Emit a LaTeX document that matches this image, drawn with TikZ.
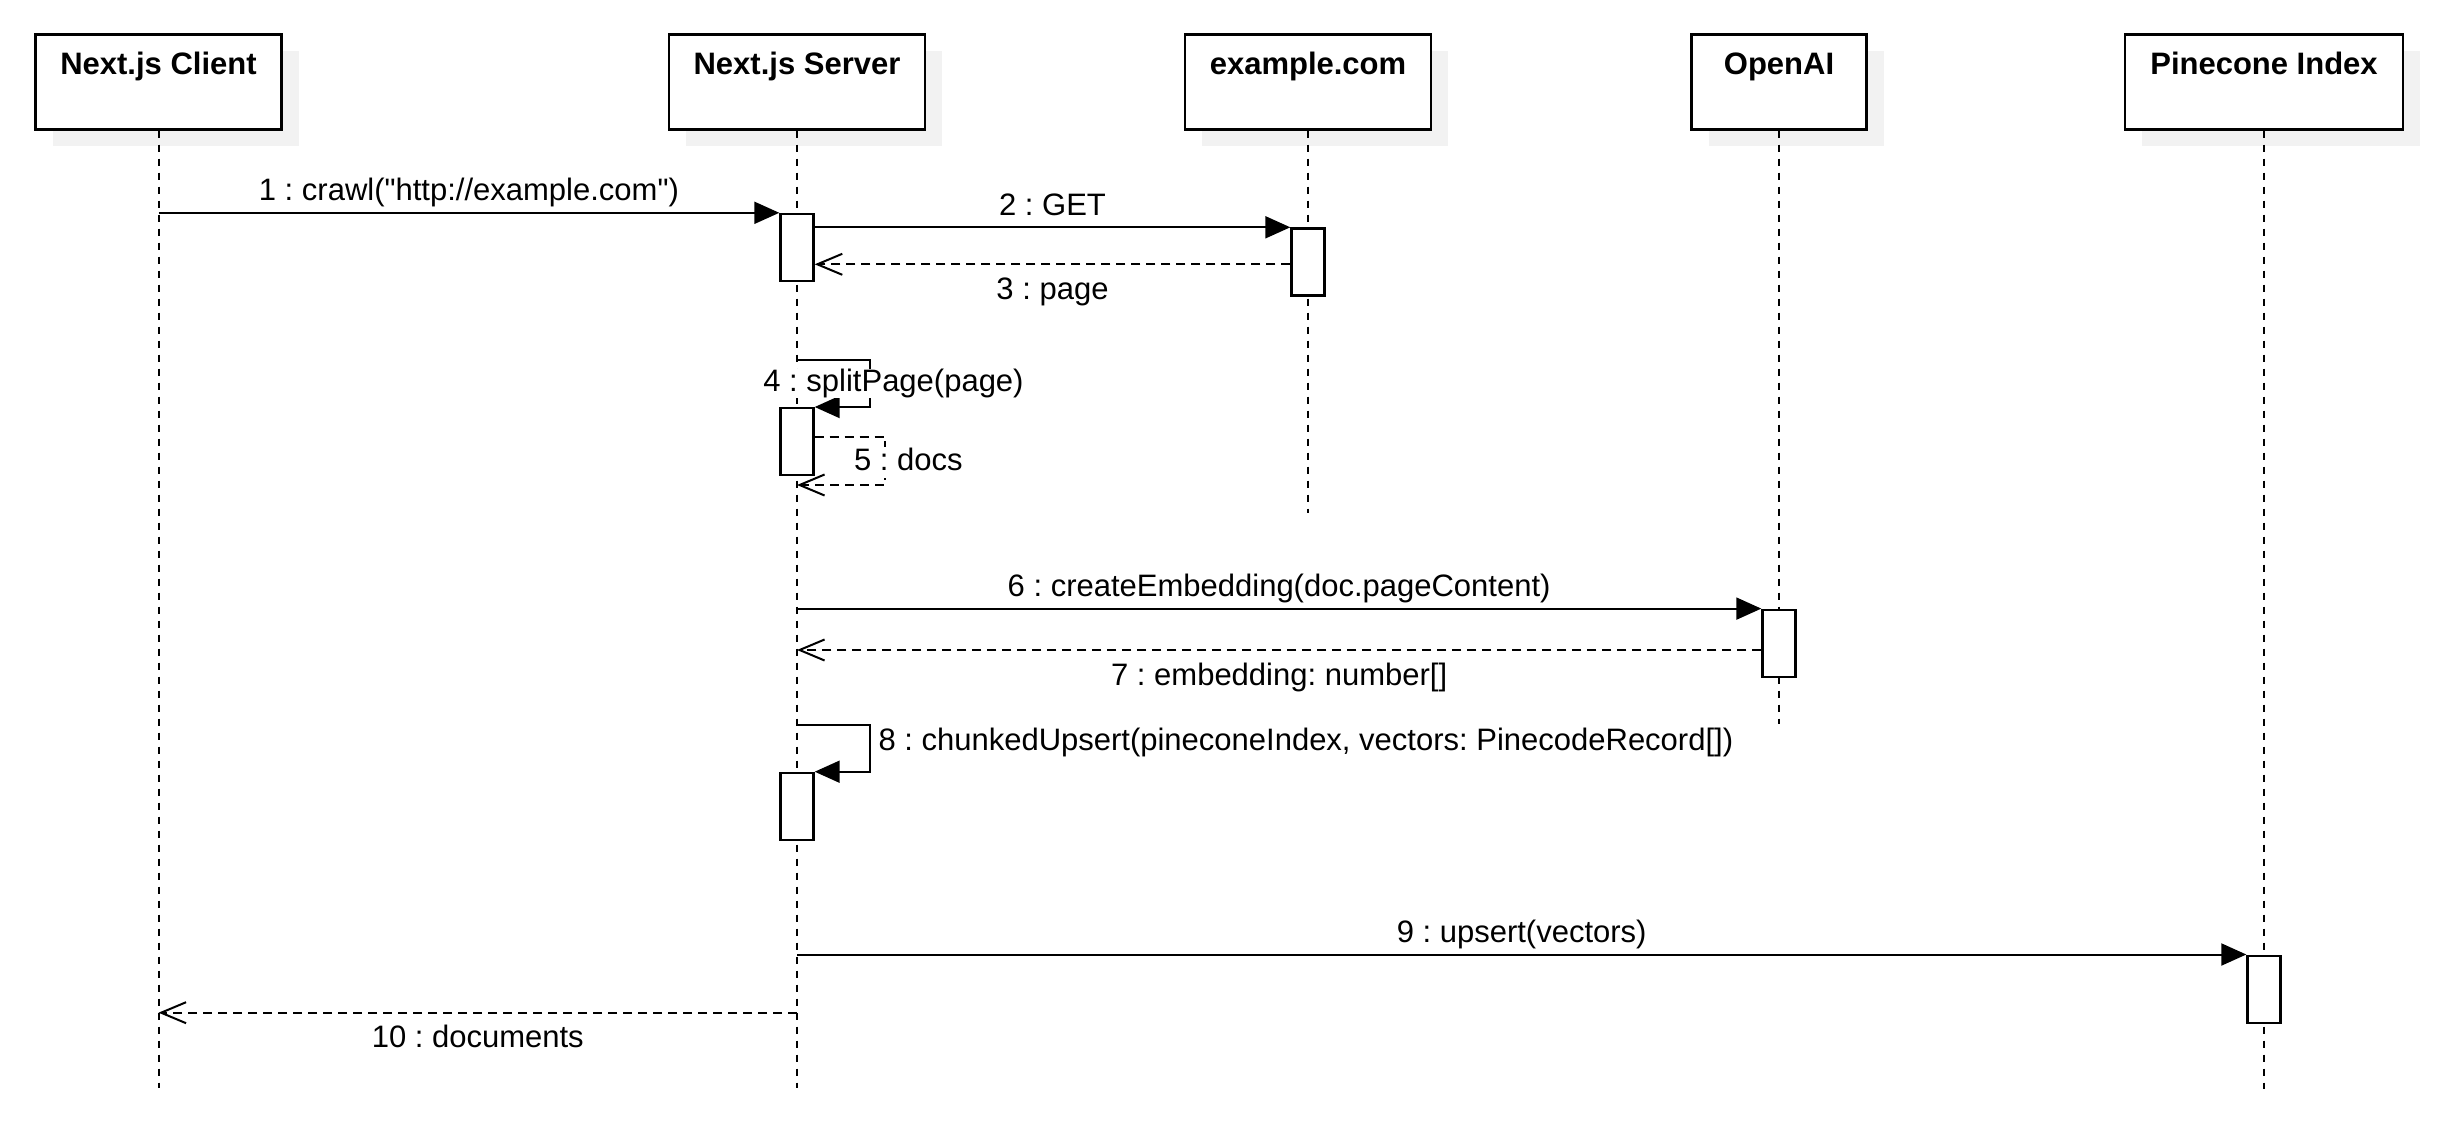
\documentclass[tikz,border=0pt]{standalone}
\usepackage{fontspec}
\setmainfont{Liberation Sans}[Ligatures=TeXOff]
\usetikzlibrary{arrows.meta,shadows}
\definecolor{shadowgray}{HTML}{F2F2F2}

\begin{document}
\frenchspacing
\begin{tikzpicture}[x=1pt, y=-1pt,
    every node/.style={font=\fontsize{31}{37}\selectfont},
    headbox/.style={draw, line width=2.6pt, fill=white, minimum height=95pt, inner sep=0pt,
      drop shadow={shadow xshift=17pt, shadow yshift=-17pt, fill=shadowgray, opacity=1}},
    headtext/.style={font=\fontsize{31}{37}\selectfont\bfseries, inner sep=0pt, anchor=base},
    lifeline/.style={line width=2pt, dash pattern=on 7pt off 7pt},
    actbar/.style={draw, line width=2.4pt, fill=white, minimum width=33pt, minimum height=67pt, inner sep=0pt},
    msg/.style={line width=2pt, -{Triangle[length=25pt, width=22pt]}},
    ret/.style={line width=2pt, dash pattern=on 9pt off 6pt, -{Straight Barb[length=25pt, width=21pt]}},
    msglabel/.style={inner sep=6pt, text height=23pt, text depth=8pt}]
  \useasboundingbox (0,0) rectangle (2456,1146);

  % participants
  \node[headbox, minimum width=246pt] (client) at (158.5,81.7) {};
  \node[headbox, minimum width=256pt] (server) at (797,81.7) {};
  \node[headbox, minimum width=246pt] (site) at (1308,81.7) {};
  \node[headbox, minimum width=175pt] (openai) at (1779,81.7) {};
  \node[headbox, minimum width=278pt] (pinecone) at (2264,81.7) {};
  \node[headtext] (clientname) at ([yshift=-42pt]client.north) {Next.js Client};
  \node[headtext] (servername) at ([yshift=-42pt]server.north) {Next.js Server};
  \node[headtext] (sitename) at ([yshift=-42pt]site.north) {example.com};
  \node[headtext] (openainame) at ([yshift=-42pt]openai.north) {OpenAI};
  \node[headtext] (pineconename) at ([yshift=-42pt]pinecone.north) {Pinecone Index};

  % lifelines
  \coordinate (clientend) at (client |- 0,1088);
  \coordinate (serverend) at (server |- 0,1088);
  \coordinate (siteend) at (site |- 0,513);
  \coordinate (openaiend) at (openai |- 0,724);
  \coordinate (pineconeend) at (pinecone |- 0,1089);
  \draw[lifeline] (client) -- (clientend);
  \draw[lifeline] (server) -- (serverend);
  \draw[lifeline] (site) -- (siteend);
  \draw[lifeline] (openai) -- (openaiend);
  \draw[lifeline] (pinecone) -- (pineconeend);

  % activations
  \node[actbar] (act1) at (server |- 0,247.5) {};
  \node[actbar] (act2) at (site |- 0,262) {};
  \node[actbar] (act3) at (server |- 0,441.7) {};
  \node[actbar] (act4) at (openai |- 0,643.3) {};
  \node[actbar] (act5) at (server |- 0,806.4) {};
  \node[actbar] (act6) at (pinecone |- 0,989.2) {};

  % messages
  \draw[msg] (client |- act1.north) -- node[msglabel, above=-3pt] (m1) {1 : crawl("http://example.com")} (act1.north west);
  \draw[msg] (act1.east |- act2.north west) -- node[msglabel, above=-3pt] (m2) {2 : GET} (act2.north west);
  \draw[ret] (act2.west |- 0,264.3) -- node[msglabel, below=5pt] (m3) {3 : page} (act1.east |- 0,264.3);
  \draw[msg] (server |- 0,360) -- (870,360) |- (act3.north east);
  \draw[ret] (act3.east |- 0,436.7) -- (885,436.7) |- (server |- 0,485);
  \node[msglabel, fill=white, inner sep=0pt, text depth=6.5pt, anchor=base] (m4) at (893.5,391.5) {4 : splitPage(page)};
  \node[msglabel, fill=white, inner sep=0pt, anchor=base] (m5) at (908.3,470) {5 : docs};
  \draw[msg] (server |- act4.north) -- node[msglabel, above=-3pt] (m6) {6 : createEmbedding(doc.pageContent)} (act4.north west);
  \draw[ret] (act4.west |- 0,650) -- node[msglabel, below=5pt] (m7) {7 : embedding: number[]} (server |- 0,650);
  \draw[msg] (server |- 0,725) -- (870,725) |- (act5.north east);
  \node[msglabel, inner sep=0pt, anchor=base west] (m8) at (878.3,750) {8 : chunkedUpsert(pineconeIndex, vectors: PinecodeRecord[])};
  \draw[msg] (server |- act6.north) -- node[msglabel, above=-3pt] (m9) {9 : upsert(vectors)} (act6.north west);
  \draw[ret] (server |- 0,1012.7) -- node[msglabel, below=5pt] (m10) {10 : documents} (client |- 0,1012.7);
\end{tikzpicture}
\end{document}
